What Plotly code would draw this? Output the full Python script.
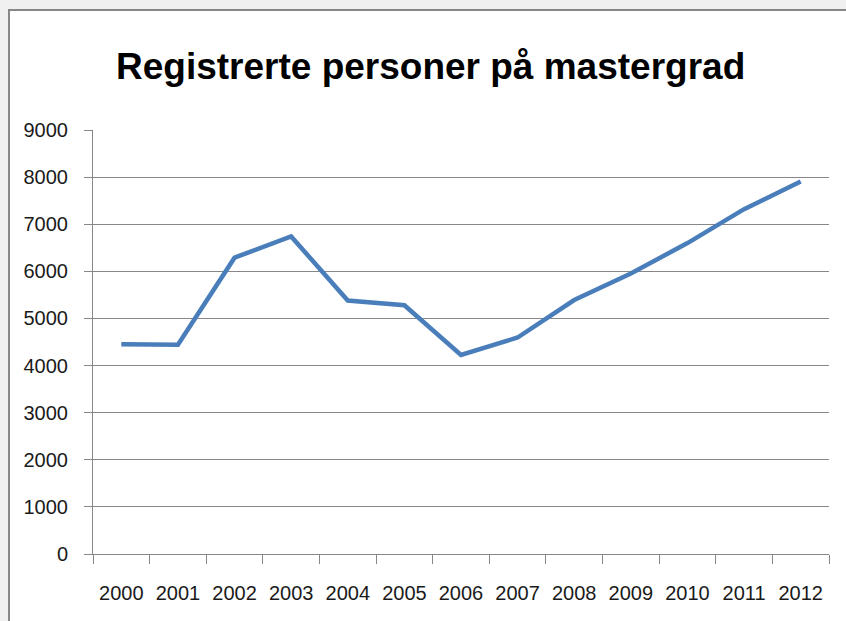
import plotly.graph_objects as go

years = ["2000", "2001", "2002", "2003", "2004", "2005", "2006",
         "2007", "2008", "2009", "2010", "2011", "2012"]
personer = [4450, 4440, 6290, 6740, 5380, 5280, 4225,
            4595, 5390, 5955, 6600, 7320, 7905]
y_ticks = [0, 1000, 2000, 3000, 4000, 5000, 6000, 7000, 8000, 9000]
title_text = "Registrerte personer på mastergrad"

TITLE_FONT = "Liberation Sans, Arial, sans-serif"
FONT = "Liberation Sans, Arial, sans-serif"
W, H = 846, 621
L, R, T, B = 93, 17, 130, 67
pw, ph = W - L - R, H - T - B

def px_x(p):
    return (p - L) / pw

def px_y(p):
    return (H - B - p) / ph

fig = go.Figure()
fig.add_trace(go.Scatter(
    x=years, y=personer, mode="lines",
    line=dict(color="#4a7ebb", width=4.5),
    hoverinfo="x+y",
))

fig.update_layout(
    width=W, height=H,
    margin=dict(l=L, r=R, t=T, b=B),
    paper_bgcolor="#f0f0f0",
    plot_bgcolor="rgba(0,0,0,0)",
    showlegend=False,
    shapes=[dict(
        type="rect", xref="paper", yref="paper", layer="below",
        x0=px_x(9), x1=px_x(W + 20), y0=px_y(H + 20), y1=px_y(10),
        fillcolor="white", line=dict(color="#878787", width=2),
    )],
    annotations=[dict(
        text=title_text, xref="paper", yref="paper",
        x=px_x(430), y=px_y(67), xanchor="center", yanchor="middle",
        showarrow=False,
        font=dict(family=TITLE_FONT, size=37, color="#000000", weight=700),
    )],
)

fig.update_xaxes(
    type="category", tickson="boundaries",
    showline=True, linecolor="#878787", linewidth=1,
    ticks="outside", ticklen=9, tickcolor="#878787",
    ticklabelstandoff=21,
    showgrid=False, zeroline=False,
    tickfont=dict(family=FONT, size=20, color="#1a1a1a"),
    range=[-0.5, len(years) - 0.5],
)
fig.update_yaxes(
    range=[0, 9000], tickvals=y_ticks,
    ticktext=[str(v) for v in y_ticks],
    showline=True, linecolor="#878787", linewidth=1,
    ticks="outside", ticklen=8, tickcolor="#878787",
    ticklabelstandoff=12,
    showgrid=True, gridcolor="#878787", gridwidth=1,
    zeroline=False,
    tickfont=dict(family=FONT, size=20, color="#1a1a1a"),
)

fig.write_html("out.html", config={"displayModeBar": False},
               post_script="document.body.style.margin='0';")
